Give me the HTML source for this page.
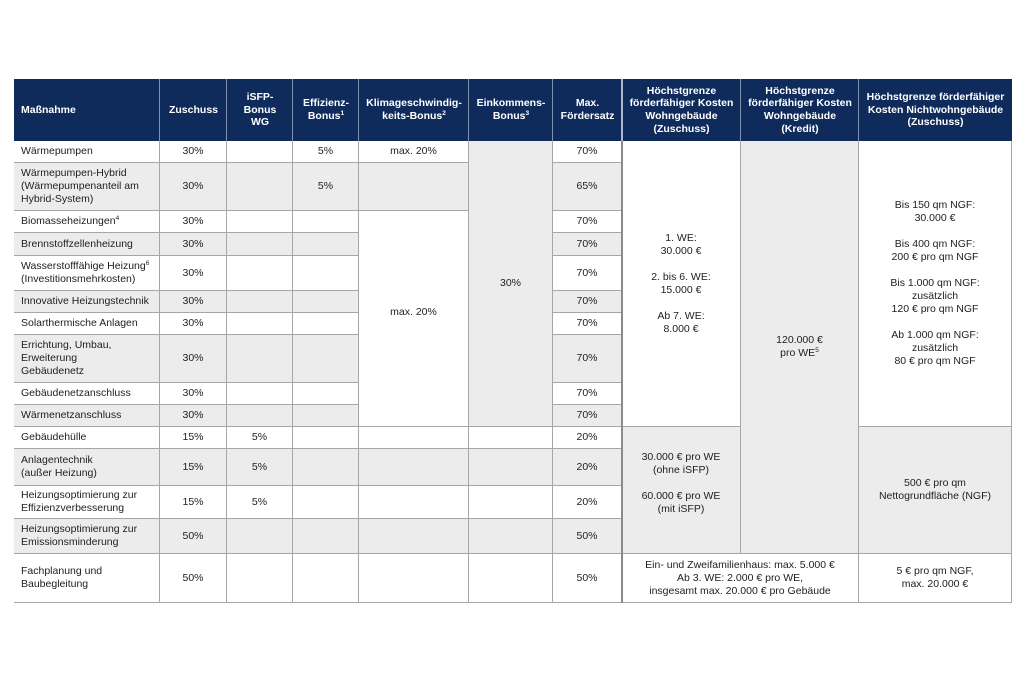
<!DOCTYPE html>
<html><head><meta charset="utf-8">
<style>
html,body{margin:0;padding:0;background:#fff;}
body{width:1024px;height:683px;position:relative;overflow:hidden;font-family:"Liberation Sans",Arial,sans-serif;}
.c{position:absolute;box-sizing:border-box;border-right:1px solid #a6a6a6;border-bottom:1px solid #a6a6a6;display:flex;align-items:center;justify-content:center;text-align:center;font-size:10.5px;line-height:13px;color:#1e1e1e;background:#fff;}
.c>span,.h>span{display:block;}
.g{background:#ececec;}
.l{justify-content:flex-start;text-align:left;padding-left:7px;}
.h{position:absolute;box-sizing:border-box;display:flex;align-items:center;justify-content:center;text-align:center;font-size:10.5px;line-height:12.7px;color:#fff;font-weight:bold;}
.hl{justify-content:flex-start;text-align:left;padding-left:7px;}
.vl{position:absolute;top:79px;height:62px;width:1px;background:#7f91b0;}
sup{font-size:6.5px;line-height:0;vertical-align:4px;}
</style></head><body>
<!-- header -->
<div style="position:absolute;left:14px;top:79px;width:998px;height:62px;background:#0f2b5c;"></div>
<div class="vl" style="left:159px"></div>
<div class="vl" style="left:226px"></div>
<div class="vl" style="left:292px"></div>
<div class="vl" style="left:358px"></div>
<div class="vl" style="left:468px"></div>
<div class="vl" style="left:552px"></div>
<div class="vl" style="left:621px;width:2px;background:#a9b6cb"></div>
<div class="vl" style="left:740px"></div>
<div class="vl" style="left:858px"></div>

<div class="h hl" style="left:14px;top:79px;width:146px;height:62px"><span>Maßnahme</span></div>
<div class="h" style="left:160px;top:79px;width:67px;height:62px"><span>Zuschuss</span></div>
<div class="h" style="left:227px;top:79px;width:66px;height:62px"><span>iSFP-<br>Bonus<br>WG</span></div>
<div class="h" style="left:293px;top:79px;width:66px;height:62px"><span>Effizienz-<br>Bonus<sup>1</sup></span></div>
<div class="h" style="left:359px;top:79px;width:110px;height:62px"><span>Klimageschwindig-<br>keits-Bonus<sup>2</sup></span></div>
<div class="h" style="left:469px;top:79px;width:84px;height:62px"><span>Einkommens-<br>Bonus<sup>3</sup></span></div>
<div class="h" style="left:553px;top:79px;width:69px;height:62px"><span>Max.<br>Fördersatz</span></div>
<div class="h" style="left:622px;top:79px;width:119px;height:62px"><span>Höchstgrenze<br>förderfähiger Kosten<br>Wohngebäude<br>(Zuschuss)</span></div>
<div class="h" style="left:741px;top:79px;width:118px;height:62px"><span>Höchstgrenze<br>förderfähiger Kosten<br>Wohngebäude<br>(Kredit)</span></div>
<div class="h" style="left:859px;top:79px;width:153px;height:62px"><span>Höchstgrenze förderfähiger<br>Kosten Nichtwohngebäude<br>(Zuschuss)</span></div>

<!-- left outer border -->
<div style="position:absolute;left:14px;top:141px;width:1px;height:462px;background:#a6a6a6;"></div>

<!-- Row 0 -->
<div class="c l" style="left:14px;top:141px;width:146px;height:22px"><span>Wärmepumpen</span></div>
<div class="c" style="left:160px;top:141px;width:67px;height:22px"><span>30%</span></div>
<div class="c" style="left:227px;top:141px;width:66px;height:22px"></div>
<div class="c" style="left:293px;top:141px;width:66px;height:22px"><span>5%</span></div>
<div class="c" style="left:359px;top:141px;width:110px;height:22px"><span>max. 20%</span></div>
<div class="c" style="left:553px;top:141px;width:69px;height:22px"><span>70%</span></div>
<!-- Row 1 -->
<div class="c l g" style="left:14px;top:163px;width:146px;height:48px"><span>Wärmepumpen-Hybrid<br>(Wärmepumpenanteil am<br>Hybrid-System)</span></div>
<div class="c g" style="left:160px;top:163px;width:67px;height:48px"><span>30%</span></div>
<div class="c g" style="left:227px;top:163px;width:66px;height:48px"></div>
<div class="c g" style="left:293px;top:163px;width:66px;height:48px"><span>5%</span></div>
<div class="c g" style="left:359px;top:163px;width:110px;height:48px"></div>
<div class="c g" style="left:553px;top:163px;width:69px;height:48px"><span>65%</span></div>
<!-- Row 2 -->
<div class="c l" style="left:14px;top:211px;width:146px;height:22px"><span>Biomasseheizungen<sup>4</sup></span></div>
<div class="c" style="left:160px;top:211px;width:67px;height:22px"><span>30%</span></div>
<div class="c" style="left:227px;top:211px;width:66px;height:22px"></div>
<div class="c" style="left:293px;top:211px;width:66px;height:22px"></div>
<div class="c" style="left:553px;top:211px;width:69px;height:22px"><span>70%</span></div>
<!-- Row 3 -->
<div class="c l g" style="left:14px;top:233px;width:146px;height:23px"><span>Brennstoffzellenheizung</span></div>
<div class="c g" style="left:160px;top:233px;width:67px;height:23px"><span>30%</span></div>
<div class="c g" style="left:227px;top:233px;width:66px;height:23px"></div>
<div class="c g" style="left:293px;top:233px;width:66px;height:23px"></div>
<div class="c g" style="left:553px;top:233px;width:69px;height:23px"><span>70%</span></div>
<!-- Row 4 -->
<div class="c l" style="left:14px;top:256px;width:146px;height:35px"><span>Wasserstofffähige Heizung<sup>6</sup><br>(Investitionsmehrkosten)</span></div>
<div class="c" style="left:160px;top:256px;width:67px;height:35px"><span>30%</span></div>
<div class="c" style="left:227px;top:256px;width:66px;height:35px"></div>
<div class="c" style="left:293px;top:256px;width:66px;height:35px"></div>
<div class="c" style="left:553px;top:256px;width:69px;height:35px"><span>70%</span></div>
<!-- Row 5 -->
<div class="c l g" style="left:14px;top:291px;width:146px;height:22px"><span>Innovative Heizungstechnik</span></div>
<div class="c g" style="left:160px;top:291px;width:67px;height:22px"><span>30%</span></div>
<div class="c g" style="left:227px;top:291px;width:66px;height:22px"></div>
<div class="c g" style="left:293px;top:291px;width:66px;height:22px"></div>
<div class="c g" style="left:553px;top:291px;width:69px;height:22px"><span>70%</span></div>
<!-- Row 6 -->
<div class="c l" style="left:14px;top:313px;width:146px;height:22px"><span>Solarthermische Anlagen</span></div>
<div class="c" style="left:160px;top:313px;width:67px;height:22px"><span>30%</span></div>
<div class="c" style="left:227px;top:313px;width:66px;height:22px"></div>
<div class="c" style="left:293px;top:313px;width:66px;height:22px"></div>
<div class="c" style="left:553px;top:313px;width:69px;height:22px"><span>70%</span></div>
<!-- Row 7 -->
<div class="c l g" style="left:14px;top:335px;width:146px;height:48px"><span>Errichtung, Umbau,<br>Erweiterung<br>Gebäudenetz</span></div>
<div class="c g" style="left:160px;top:335px;width:67px;height:48px"><span>30%</span></div>
<div class="c g" style="left:227px;top:335px;width:66px;height:48px"></div>
<div class="c g" style="left:293px;top:335px;width:66px;height:48px"></div>
<div class="c g" style="left:553px;top:335px;width:69px;height:48px"><span>70%</span></div>
<!-- Row 8 -->
<div class="c l" style="left:14px;top:383px;width:146px;height:22px"><span>Gebäudenetzanschluss</span></div>
<div class="c" style="left:160px;top:383px;width:67px;height:22px"><span>30%</span></div>
<div class="c" style="left:227px;top:383px;width:66px;height:22px"></div>
<div class="c" style="left:293px;top:383px;width:66px;height:22px"></div>
<div class="c" style="left:553px;top:383px;width:69px;height:22px"><span>70%</span></div>
<!-- Row 9 -->
<div class="c l g" style="left:14px;top:405px;width:146px;height:22px"><span>Wärmenetzanschluss</span></div>
<div class="c g" style="left:160px;top:405px;width:67px;height:22px"><span>30%</span></div>
<div class="c g" style="left:227px;top:405px;width:66px;height:22px"></div>
<div class="c g" style="left:293px;top:405px;width:66px;height:22px"></div>
<div class="c g" style="left:553px;top:405px;width:69px;height:22px"><span>70%</span></div>

<!-- merged cells rows 0-9 -->
<div class="c" style="left:359px;top:211px;width:110px;height:216px;padding-bottom:12px"><span>max. 20%</span></div>
<div class="c g" style="left:469px;top:141px;width:84px;height:286px"><span>30%</span></div>
<div class="c" style="left:622px;top:141px;width:119px;height:286px"><span>1. WE:<br>30.000 €<br><br>2. bis 6. WE:<br>15.000 €<br><br>Ab 7. WE:<br>8.000 €</span></div>
<div class="c g" style="left:741px;top:141px;width:118px;height:413px"><span>120.000 €<br>pro WE<sup>5</sup></span></div>
<div class="c" style="left:859px;top:141px;width:153px;height:286px"><span>Bis 150 qm NGF:<br>30.000 €<br><br>Bis 400 qm NGF:<br>200 € pro qm NGF<br><br>Bis 1.000 qm NGF:<br>zusätzlich<br>120 € pro qm NGF<br><br>Ab 1.000 qm NGF:<br>zusätzlich<br>80 € pro qm NGF</span></div>

<!-- Row 10 -->
<div class="c l" style="left:14px;top:427px;width:146px;height:22px"><span>Gebäudehülle</span></div>
<div class="c" style="left:160px;top:427px;width:67px;height:22px"><span>15%</span></div>
<div class="c" style="left:227px;top:427px;width:66px;height:22px"><span>5%</span></div>
<div class="c" style="left:293px;top:427px;width:66px;height:22px"></div>
<div class="c" style="left:359px;top:427px;width:110px;height:22px"></div>
<div class="c" style="left:469px;top:427px;width:84px;height:22px"></div>
<div class="c" style="left:553px;top:427px;width:69px;height:22px"><span>20%</span></div>
<!-- Row 11 -->
<div class="c l g" style="left:14px;top:449px;width:146px;height:37px"><span>Anlagentechnik<br>(außer Heizung)</span></div>
<div class="c g" style="left:160px;top:449px;width:67px;height:37px"><span>15%</span></div>
<div class="c g" style="left:227px;top:449px;width:66px;height:37px"><span>5%</span></div>
<div class="c g" style="left:293px;top:449px;width:66px;height:37px"></div>
<div class="c g" style="left:359px;top:449px;width:110px;height:37px"></div>
<div class="c g" style="left:469px;top:449px;width:84px;height:37px"></div>
<div class="c g" style="left:553px;top:449px;width:69px;height:37px"><span>20%</span></div>
<!-- Row 12 -->
<div class="c l" style="left:14px;top:486px;width:146px;height:33px"><span>Heizungsoptimierung zur<br>Effizienzverbesserung</span></div>
<div class="c" style="left:160px;top:486px;width:67px;height:33px"><span>15%</span></div>
<div class="c" style="left:227px;top:486px;width:66px;height:33px"><span>5%</span></div>
<div class="c" style="left:293px;top:486px;width:66px;height:33px"></div>
<div class="c" style="left:359px;top:486px;width:110px;height:33px"></div>
<div class="c" style="left:469px;top:486px;width:84px;height:33px"></div>
<div class="c" style="left:553px;top:486px;width:69px;height:33px"><span>20%</span></div>
<!-- Row 13 -->
<div class="c l g" style="left:14px;top:519px;width:146px;height:35px"><span>Heizungsoptimierung zur<br>Emissionsminderung</span></div>
<div class="c g" style="left:160px;top:519px;width:67px;height:35px"><span>50%</span></div>
<div class="c g" style="left:227px;top:519px;width:66px;height:35px"></div>
<div class="c g" style="left:293px;top:519px;width:66px;height:35px"></div>
<div class="c g" style="left:359px;top:519px;width:110px;height:35px"></div>
<div class="c g" style="left:469px;top:519px;width:84px;height:35px"></div>
<div class="c g" style="left:553px;top:519px;width:69px;height:35px"><span>50%</span></div>

<!-- merged rows 10-13 -->
<div class="c g" style="left:622px;top:427px;width:119px;height:127px;padding-bottom:13px"><span>30.000 € pro WE<br>(ohne iSFP)<br><br>60.000 € pro WE<br>(mit iSFP)</span></div>
<div class="c g" style="left:859px;top:427px;width:153px;height:127px"><span>500 € pro qm<br>Nettogrundfläche (NGF)</span></div>

<!-- Row 14 -->
<div class="c l" style="left:14px;top:554px;width:146px;height:49px"><span>Fachplanung und<br>Baubegleitung</span></div>
<div class="c" style="left:160px;top:554px;width:67px;height:49px"><span>50%</span></div>
<div class="c" style="left:227px;top:554px;width:66px;height:49px"></div>
<div class="c" style="left:293px;top:554px;width:66px;height:49px"></div>
<div class="c" style="left:359px;top:554px;width:110px;height:49px"></div>
<div class="c" style="left:469px;top:554px;width:84px;height:49px"></div>
<div class="c" style="left:553px;top:554px;width:69px;height:49px"><span>50%</span></div>
<div class="c" style="left:622px;top:554px;width:237px;height:49px"><span>Ein- und Zweifamilienhaus: max. 5.000 €<br>Ab 3. WE: 2.000 € pro WE,<br>insgesamt max. 20.000 € pro Gebäude</span></div>
<div class="c" style="left:859px;top:554px;width:153px;height:49px"><span>5 € pro qm NGF,<br>max. 20.000 €</span></div>

<!-- thick separator -->
<div style="position:absolute;left:621px;top:141px;width:2px;height:462px;background:#8a8a8a;"></div>
</body></html>
